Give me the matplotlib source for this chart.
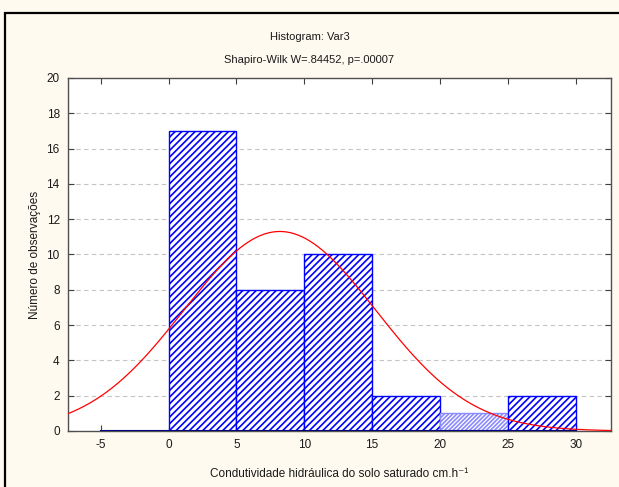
import numpy as np
import matplotlib.pyplot as plt
from matplotlib.patches import Rectangle

# Histogram counts per 5-unit class
bin_edges = [-5, 0, 5, 10, 15, 20, 25, 30]
counts = [0, 17, 8, 10, 2, 1, 2]

# Fitted normal curve parameters
fit_mean = 8.2
fit_sd = 7.06

x_ticks = [-5, 0, 5, 10, 15, 20, 25, 30]
y_ticks = [0, 2, 4, 6, 8, 10, 12, 14, 16, 18, 20]

plt.rcParams['font.family'] = ['Liberation Sans', 'DejaVu Sans']
plt.rcParams['axes.unicode_minus'] = False
plt.rcParams['hatch.linewidth'] = 1.2

fig = plt.figure(figsize=(6.19, 4.87), dpi=100, facecolor='#fffaf0')
ax = fig.add_axes([0.110, 0.115, 0.877, 0.725])
ax.set_facecolor('white')

# outer frame line
fig.patches.append(Rectangle((5 / 619, -0.05), 1.1, (487 - 13) / 487 + 0.05,
                             transform=fig.transFigure, fill=False,
                             edgecolor='black', linewidth=1.6))

widths = np.diff(bin_edges)
lefts = np.array(bin_edges[:-1])
for left, w, c in zip(lefts, widths, counts):
    if left == 20:
        ax.bar(left, c, width=w, align='edge', facecolor='white',
               edgecolor='#8a8aff', hatch='////////', linewidth=1.0, zorder=2)
    else:
        ax.bar(left, c, width=w, align='edge', facecolor='white',
               edgecolor='#0000ff', hatch='/////', linewidth=1.0, zorder=2)
ax.plot([-5, 30], [0, 0], color='#000080', linewidth=1.5, zorder=3)

# expected counts from the normal fit
xs = np.linspace(-7.4, 32.6, 400)
n_total = sum(counts)
bw = 5
pdf = np.exp(-0.5 * ((xs - fit_mean) / fit_sd) ** 2) / (fit_sd * np.sqrt(2 * np.pi))
ax.plot(xs, n_total * bw * pdf, color='#ff0000', linewidth=0.9, zorder=4)

ax.set_xlim(-7.4, 32.6)
ax.set_ylim(0, 20)
ax.set_xticks(x_ticks)
ax.set_yticks(y_ticks)
ax.tick_params(direction='in', length=4, width=0.8, color='#404040',
               labelsize=8.5, labelcolor='#1a1a1a', top=True, right=True, pad=6)

for y in y_ticks[1:-1]:
    ax.axhline(y, color='#c4c4c4', linestyle=(0, (4, 3)), linewidth=0.8, zorder=1)

for s in ax.spines.values():
    s.set_color('#505050')
    s.set_linewidth(1.0)

fig.text(0.5, 1 - 37 / 487, 'Histogram: Var3', ha='center', va='center',
         fontsize=8, color='#1a1a1a')
fig.text(0.5, 1 - 60 / 487, 'Shapiro-Wilk W=.84452, p=.00007', ha='center',
         va='center', fontsize=8, color='#1a1a1a')
ax.set_xlabel('Condutividade hidráulica do solo saturado cm.h⁻¹', fontsize=8.5,
              color='#1a1a1a', labelpad=12)
ax.set_ylabel('Número de observações', fontsize=8.5, color='#1a1a1a', labelpad=4)

fig.savefig('out.png', dpi=100, facecolor=fig.get_facecolor())
